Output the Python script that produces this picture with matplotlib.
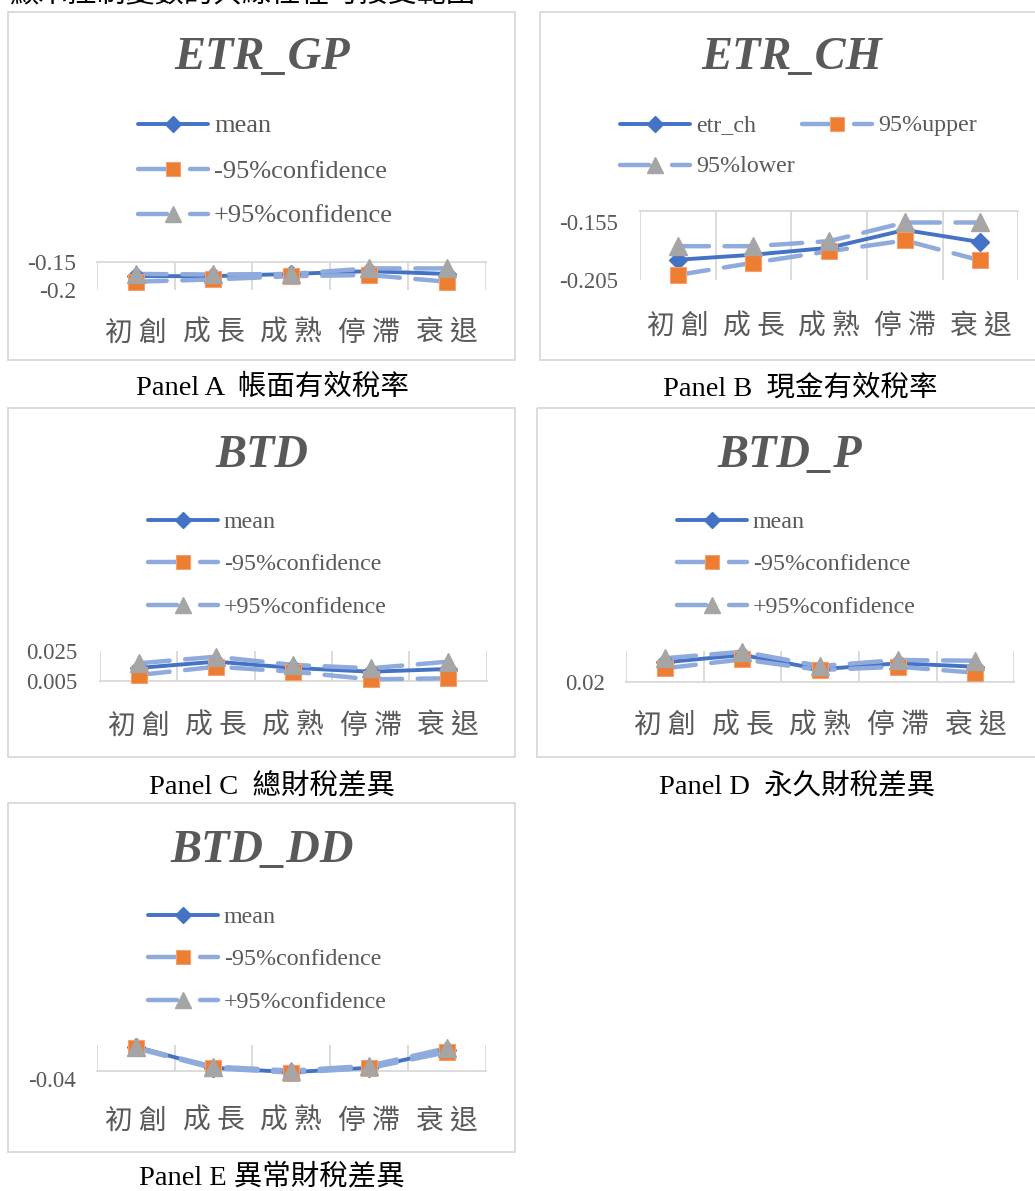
import matplotlib
matplotlib.use("Agg")
import matplotlib.pyplot as plt
from matplotlib.patches import Rectangle

W, H = 1035, 1191

# ---- data ---------------------------------------------------------------
stages = ["初 創", "成 長", "成 熟", "停 滯", "衰 退"]

etr_gp_mean = [-0.175, -0.175, -0.171, -0.166, -0.171]
etr_gp_low = [-0.185, -0.181, -0.175, -0.173, -0.185]
etr_gp_high = [-0.171, -0.172, -0.171, -0.161, -0.161]
etr_gp_ticks = [-0.2, -0.15]
etr_gp_ticklabels = ["-0.2", "-0.15"]

etr_ch_mean = [-0.1874, -0.183, -0.177, -0.1615, -0.172]
etr_ch_upper = [-0.2006, -0.190, -0.180, -0.1706, -0.188]
etr_ch_lower = [-0.1756, -0.1756, -0.1712, -0.155, -0.155]
etr_ch_ticks = [-0.205, -0.155]
etr_ch_ticklabels = ["-0.205", "-0.155"]

btd_mean = [0.0137, 0.0179, 0.0137, 0.0112, 0.0130]
btd_low = [0.0090, 0.0145, 0.0112, 0.0061, 0.0068]
btd_high = [0.0168, 0.0212, 0.0157, 0.0135, 0.0179]
btd_ticks = [0.005, 0.025]
btd_ticklabels = ["0.005", "0.025"]

btd_p_mean = [0.0388, 0.0458, 0.0320, 0.0378, 0.0345]
btd_p_low = [0.0330, 0.0416, 0.0313, 0.0345, 0.0287]
btd_p_high = [0.0427, 0.0490, 0.0352, 0.0410, 0.0403]
btd_p_ticks = [0.02]
btd_p_ticklabels = ["0.02"]

btd_dd_mean = [-0.0319, -0.0372, -0.0383, -0.0372, -0.0328]
btd_dd_low = [-0.0323, -0.0373, -0.0384, -0.0373, -0.0333]
btd_dd_high = [-0.0321, -0.0369, -0.0379, -0.0367, -0.0323]
btd_dd_ticks = [-0.04]
btd_dd_ticklabels = ["-0.04"]

ci_labels = ["mean", "-95%confidence", "+95%confidence"]
etr_ch_labels = ["etr_ch", "95%upper", "95%lower"]

# ---- styling ------------------------------------------------------------
BLUE = "#4472C4"
LIGHT = "#8FAADC"
ORANGE = "#ED7D31"
GREY = "#A5A5A5"
GRID = "#D9D9D9"
TXT = "#595959"
SERIF = "Liberation Serif"
CJK = "Noto Sans CJK TC"

fig = plt.figure(figsize=(W / 100, H / 100), dpi=100)
fig.patch.set_facecolor("white")

# full-figure layer in pixel units for frames, titles, legends and captions
base = fig.add_axes([0, 0, 1, 1])
base.set_xlim(0, W)
base.set_ylim(H, 0)
base.axis("off")
base.set_zorder(0)

base.text(10, -6.5, "顯示控制變數的共線性在可接受範圍", fontsize=21,
          family=[CJK], color="black", ha="left", va="center")


def frame(x0, y0, x1, y1):
    base.add_patch(Rectangle((x0, y0), x1 - x0, y1 - y0, fill=False,
                             edgecolor=GRID, lw=1.3))


def title(cx, cy, s):
    base.text(cx, cy, s, fontsize=33.5, fontweight="bold", style="italic",
              family=SERIF, color=TXT, ha="center", va="center")


def caption(cx, cy, s):
    base.text(cx, cy, s, fontsize=20.5, family=[SERIF, CJK], color="black",
              ha="center", va="center")


def legend_item(x0, x1, y, kind, label, fs):
    L = x1 - x0
    if kind == "mean":
        base.plot([x0, x1], [y, y], color=BLUE, lw=2.8, solid_capstyle="round")
        base.plot([x0 + 0.5 * L], [y], marker="D", ms=7.8, color=BLUE, mec=BLUE)
    else:
        base.plot([x0, x0 + 0.41 * L], [y, y], color=LIGHT, lw=3.2,
                  solid_capstyle="round")
        base.plot([x0 + 0.74 * L, x1], [y, y], color=LIGHT, lw=3.2,
                  solid_capstyle="round")
        if kind == "low":
            base.plot([x0 + 0.5 * L], [y], marker="s", ms=10.5, color=ORANGE,
                      mec="#F4A070", mew=0.8)
        else:
            base.plot([x0 + 0.5 * L], [y], marker="^", ms=11.5, color=GREY,
                      mec=GREY)
    base.text(x1 + 6, y + 2.5, label, fontsize=fs, family=SERIF, color=TXT,
              ha="left", va="center")


def panel(rect, ylim, span, axis_at, mean, low, high, ticks, ticklabels,
          tick_pad, cat_pad, labelsize=16.5):
    x0, x1, ytop, ybot = rect
    ax = fig.add_axes([x0 / W, 1 - ybot / H, (x1 - x0) / W, (ybot - ytop) / H])
    ax.set_zorder(1)
    ax.patch.set_alpha(0)
    for s in ax.spines.values():
        s.set_visible(False)
    ax.set_xlim(0, 5)
    ax.set_ylim(*ylim)
    ax.vlines(range(6), span[0], span[1], colors=GRID, lw=1.3, zorder=1)
    ax.plot([0, 5], [axis_at, axis_at], color=GRID, lw=1.3, zorder=1,
            clip_on=False)
    xs = [i + 0.5 for i in range(5)]
    ax.plot(xs, mean, color=BLUE, lw=2.8, zorder=2, clip_on=False,
            solid_joinstyle="round")
    for vals in (low, high):
        ax.plot(xs, vals, color=LIGHT, lw=3.2, zorder=3, clip_on=False,
                linestyle=(0, (7, 3.5)), dash_capstyle="round")
    ax.plot(xs, mean, lw=0, marker="D", ms=9, color=BLUE, zorder=4,
            clip_on=False)
    ax.plot(xs, low, lw=0, marker="s", ms=12, color=ORANGE, mec="#F4A070",
            mew=0.8, zorder=5, clip_on=False)
    ax.plot(xs, high, lw=0, marker="^", ms=12.5, color=GREY, zorder=6,
            clip_on=False)
    ax.set_yticks(ticks)
    ax.set_yticklabels(ticklabels, family=SERIF, color=TXT, fontsize=labelsize)
    ax.set_xticks(xs)
    ax.set_xticklabels(stages, family=[CJK], color=TXT, fontsize=20)
    ax.tick_params(axis="y", length=0, pad=tick_pad)
    ax.tick_params(axis="x", length=0, pad=cat_pad)
    return ax


# Panel A
frame(8, 12, 515, 360)
title(262, 58, "ETR_GP")
for y, kind, lab in zip([124, 169, 214], ["mean", "low", "high"], ci_labels):
    legend_item(138, 208, y, kind, lab, 19)
panel((96.7, 485.7, 262.3, 290), (-0.2, -0.15), (-0.2, -0.15), -0.15,
      etr_gp_mean, etr_gp_low, etr_gp_high, etr_gp_ticks, etr_gp_ticklabels,
      15, 20, labelsize=17)
caption(272, 388, "Panel A  帳面有效稅率")

# Panel B
frame(540, 12, 1045, 360)
title(792, 58, "ETR_CH")
legend_item(620, 690, 123.5, "mean", etr_ch_labels[0], 17.3)
legend_item(802, 872, 123.5, "low", etr_ch_labels[1], 17.3)
legend_item(620, 690, 164.5, "high", etr_ch_labels[2], 17.3)
panel((640, 1018.3, 211, 280), (-0.205, -0.145), (-0.205, -0.145), -0.145,
      etr_ch_mean, etr_ch_upper, etr_ch_lower, etr_ch_ticks, etr_ch_ticklabels,
      16, 22.5)
caption(800, 388, "Panel B  現金有效稅率")

# Panel C
frame(8, 408, 515, 757)
title(262, 456, "BTD")
for y, kind, lab in zip([520, 562, 605], ["mean", "low", "high"], ci_labels):
    legend_item(148, 218, y, kind, lab, 17.3)
panel((100, 486.7, 651, 681), (0.005, 0.025), (0.005, 0.025), 0.005,
      btd_mean, btd_low, btd_high, btd_ticks, btd_ticklabels, 16, 21.5)
caption(272, 786, "Panel C  總財稅差異")

# Panel D
frame(537, 408, 1045, 757)
title(790, 456, "BTD_P")
for y, kind, lab in zip([520, 562, 605], ["mean", "low", "high"], ci_labels):
    legend_item(677, 747, y, kind, lab, 17.3)
panel((626, 1014.3, 650.7, 681.7), (0.02, 0.05), (0.02, 0.05), 0.02,
      btd_p_mean, btd_p_low, btd_p_high, btd_p_ticks, btd_p_ticklabels,
      15, 20.5)
caption(797, 786, "Panel D  永久財稅差異")

# Panel E
frame(8, 803, 515, 1152)
title(262, 851, "BTD_DD")
for y, kind, lab in zip([915, 957, 1000], ["mean", "low", "high"], ci_labels):
    legend_item(148, 218, y, kind, lab, 17.3)
panel((96.7, 485.7, 1045, 1079), (-0.04, -0.0315), (-0.038, -0.0315), -0.038,
      btd_dd_mean, btd_dd_low, btd_dd_high, btd_dd_ticks, btd_dd_ticklabels,
      15, 19.5)
caption(272, 1177, "Panel E 異常財稅差異")

fig.savefig("out.png", dpi=100)
